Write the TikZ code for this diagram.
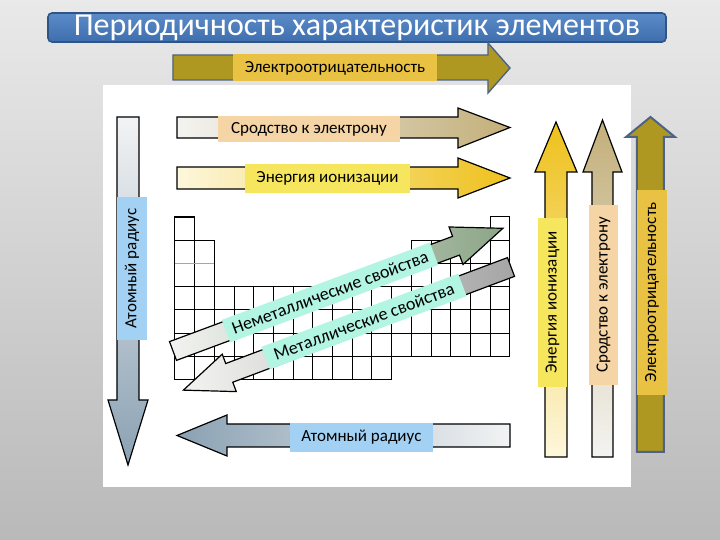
\documentclass[tikz,border=0pt]{standalone}
\usepackage{fontspec}
\setmainfont{Carlito}
\definecolor{bgtop}{HTML}{E9E9E9}
\definecolor{bgbot}{HTML}{B9B9B9}
\definecolor{titletop}{HTML}{5B8BC8}
\definecolor{titlebot}{HTML}{3F6EAE}
\definecolor{titleline}{HTML}{2F5486}
\definecolor{olive}{HTML}{AE9822}
\definecolor{oliveline}{HTML}{4E6383}
\definecolor{gold}{HTML}{EEC11C}
\definecolor{paleyellow}{HTML}{FDF7DC}
\definecolor{tan}{HTML}{C3AF7A}
\definecolor{paletan}{HTML}{F3F3F1}
\definecolor{steel}{HTML}{8AA1B3}
\definecolor{palesteel}{HTML}{F2F3F4}
\definecolor{sage}{HTML}{8CA587}
\definecolor{greyhead}{HTML}{A5A5A5}
\definecolor{boxgold}{HTML}{E9C243}
\definecolor{boxpeach}{HTML}{F5D4A6}
\definecolor{boxyellow}{HTML}{F6E65E}
\definecolor{boxblue}{HTML}{A2D1F3}
\definecolor{boxmint}{HTML}{B3F5E3}

\begin{document}
\begin{tikzpicture}[x=0.5pt,y=-0.5pt,line join=miter,
	lbl/.style={inner sep=0pt,font=\fontsize{8.5}{9}\selectfont},
	tbl/.style={line width=0.5pt}]%слайд
	\useasboundingbox (0,0) rectangle (720,540);
	\shade[top color=bgtop,bottom color=bgbot] (0,0) rectangle (720,540);
	\shade[draw=titleline,line width=0.8pt,top color=titletop,bottom color=titlebot,rounded corners=2pt] (48,13) rectangle (666,42);
	\node[inner sep=0pt,text=white,font=\fontsize{16}{17}\selectfont] (title) at (357,27.5) {Периодичность характеристик элементов};
	\fill[white] (103,85) rectangle (631,487);
	\draw [draw=oliveline,line width=0.7pt,fill=olive] (173,55)-- (488,55)-- (488,43)-- (510,68)-- (488,93)-- (488,80)-- (173,80)-- cycle;
	% таблица
	\begin{scope}[shift={(175,217)},x=9.85pt,y=-11.625pt]
		\foreach \c/\a/\b in {0/1/7,1/2/7,2/4/7,3/4/7,4/4/7,5/4/7,6/4/7,7/4/7,8/4/7,9/4/7,10/4/7,11/4/6,12/2/6,13/2/6,14/2/6,15/2/6,16/1/6}
			\foreach \r in {\a,...,\b}
				\draw [tbl] (\c,\r-1) rectangle (\c+1,\r);
		\draw [line width=1.2pt] (0,0)-- (1,0);
		\draw [line width=0.8pt,color=gray!70] (0,2)-- (2,2);
	\end{scope}
	\shade[draw=black,line width=0.6pt,left color=paletan,right color=tan] (177,117)-- (458,117)-- (458,108)-- (510,127.5)-- (458,148)-- (458,138)-- (177,138)-- cycle;
	\shade[draw=black,line width=0.6pt,left color=paleyellow,right color=gold] (177,167)-- (458,167)-- (458,158)-- (510,178)-- (458,198)-- (458,189)-- (177,189)-- cycle;
	\shade[draw=black,line width=0.6pt,top color=palesteel,bottom color=steel] (117,117)-- (139,117)-- (139,400)-- (148,400)-- (128,465)-- (108,400)-- (117,400)-- cycle;
	\shade[draw=black,line width=0.6pt,left color=steel,right color=palesteel] (510,424)-- (227,424)-- (227,415)-- (177,435.5)-- (227,456)-- (227,447)-- (510,447)-- cycle;
	\shade[draw=black,line width=0.6pt,top color=gold,bottom color=paleyellow] (545,457)-- (545,172)-- (535,172)-- (556,122)-- (577,172)-- (567,172)-- (567,457)-- cycle;
	\shade[draw=black,line width=0.6pt,top color=tan,bottom color=paletan] (592,457)-- (592,172)-- (583,172)-- (602.5,120)-- (622,172)-- (613,172)-- (613,457)-- cycle;
	\draw [draw=oliveline,line width=1pt,fill=olive] (637,452)-- (637,137)-- (626,137)-- (650.5,117)-- (675,137)-- (664,137)-- (664,452)-- cycle;
	\begin{scope}[shift={(173,351)},rotate=20.4]
		\shade[draw=black,line width=0.6pt,left color=paletan,right color=sage] (0,-10)-- (302,-10)-- (302,-20)-- (352,0)-- (302,20)-- (302,10)-- (0,10)-- cycle;
	\end{scope}
	\begin{scope}[shift={(511,267)},rotate=200.6]
		\shade[draw=black,line width=0.6pt,right color=greyhead,left color=paletan] (0,-10)-- (301,-10)-- (301,-20)-- (350,0)-- (301,20)-- (301,10)-- (0,10)-- cycle;
	\end{scope}
	% подписи
	\node[lbl,fill=boxgold,minimum width=102pt,minimum height=13.5pt] (enTop) at (335,68) {Электроотрицательность};
	\node[lbl,fill=boxpeach,minimum width=91pt,minimum height=13pt] (affTop) at (309,129) {Сродство к электрону};
	\node[lbl,fill=boxyellow,minimum width=82.5pt,minimum height=14.5pt] (ionTop) at (327.5,178.5) {Энергия ионизации};
	\node[lbl,fill=boxblue,minimum width=71.5pt,minimum height=15pt,rotate=90] (radLeft) at (132,268.5) {Атомный радиус};
	\node[lbl,fill=boxblue,minimum width=71.5pt,minimum height=14.5pt] (radBottom) at (361.5,437.5) {Атомный радиус};
	\node[lbl,fill=boxyellow,minimum width=84.5pt,minimum height=14.5pt,rotate=90] (ionRight) at (552.5,302.5) {Энергия ионизации};
	\node[lbl,fill=boxpeach,minimum width=90pt,minimum height=14.5pt,rotate=90] (affRight) at (603.5,295) {Сродство к электрону};
	\node[lbl,fill=boxgold,minimum width=102.5pt,minimum height=15pt,rotate=90] (enRight) at (652,292.5) {Электроотрицательность};
	\node[lbl,fill=boxmint,minimum width=111pt,minimum height=12pt,rotate=20.4,font=\fontsize{9}{10}\selectfont] (nonmetal) at (330,292.5) {Неметаллические свойства};
	\node[lbl,fill=boxmint,minimum width=105pt,minimum height=12pt,rotate=20.4,font=\fontsize{9}{10}\selectfont] (metal) at (364,321.5) {Металлические свойства};
\end{tikzpicture}
\end{document}
